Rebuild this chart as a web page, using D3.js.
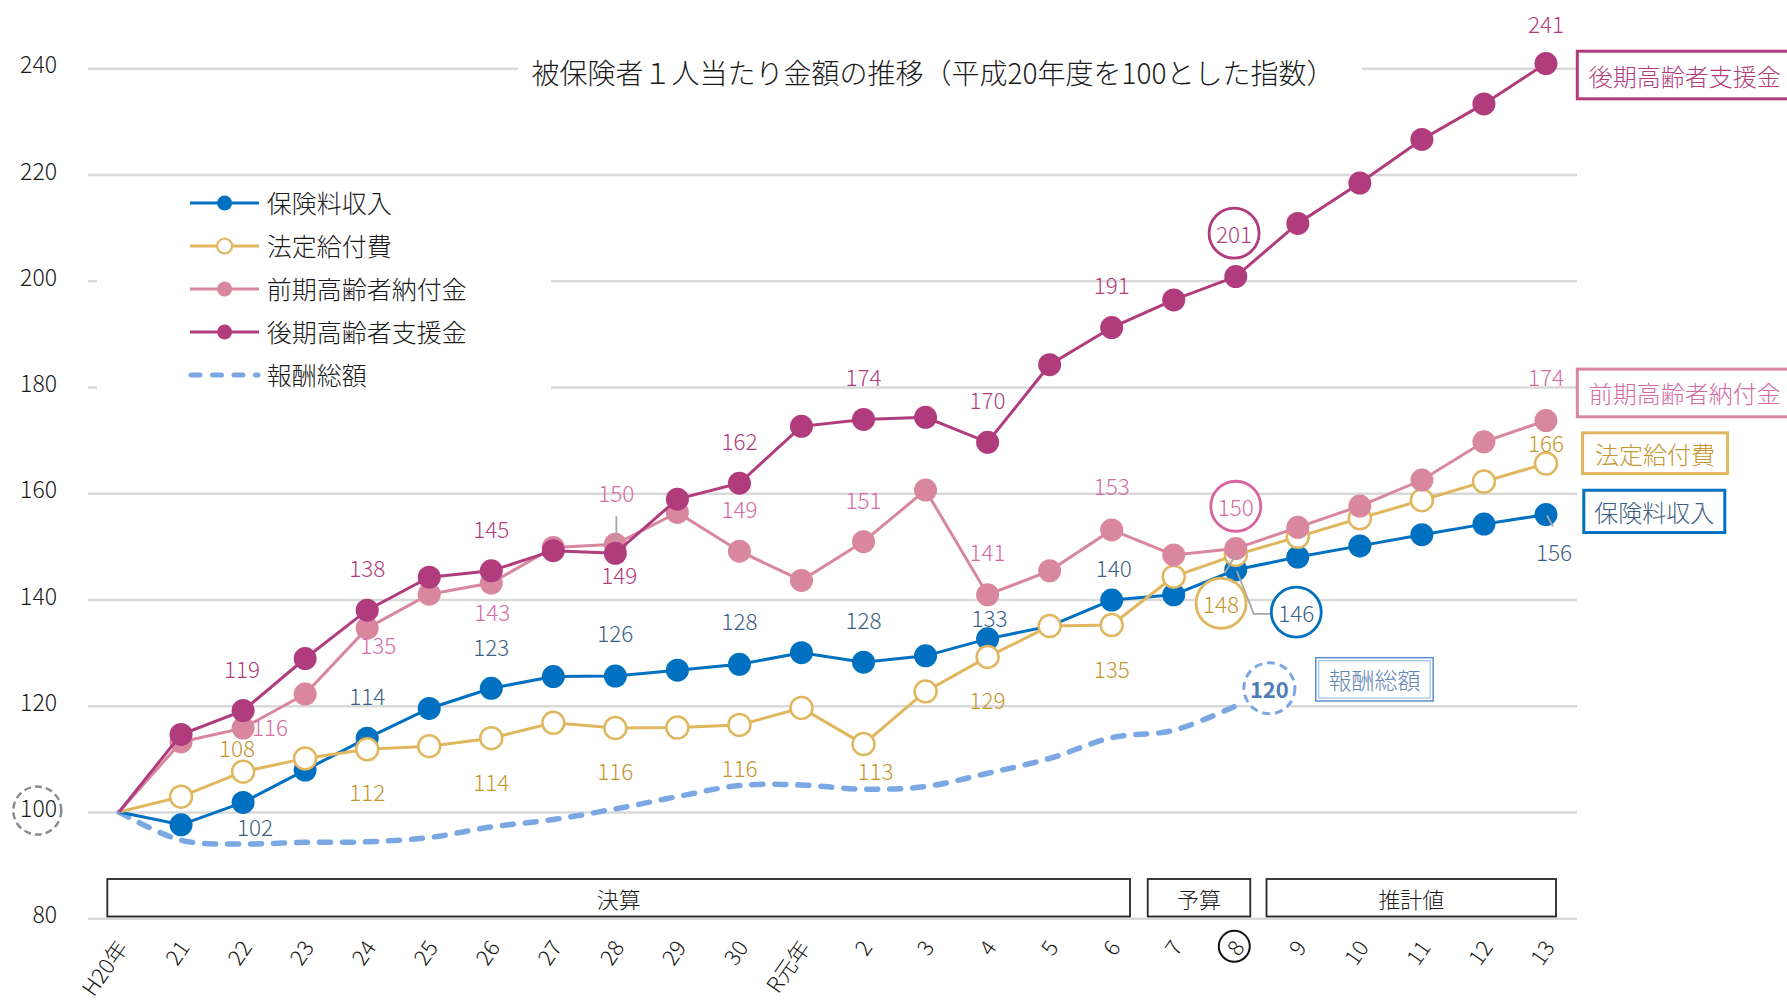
<!DOCTYPE html>
<html><head><meta charset="utf-8">
<script src="https://cdn.jsdelivr.net/npm/d3@7"></script>
<style>
html,body{margin:0;padding:0;background:#fff;}
svg{display:block;font-family:"Noto Sans CJK JP","Noto Sans",sans-serif;font-weight:300;}
</style></head><body>
<svg id="chart" width="1787" height="1004"></svg>
<script>
// ---------------- DATA ----------------
const categories = ["H20年","21","22","23","24","25","26","27","28","29","30","R元年","2","3","4","5","6","7","8","9","10","11","12","13"];
const premiumIncome      = [100,97.6,101.8,107.9,113.9,119.5,123.3,125.5,125.6,126.7,127.8,130.0,128.2,129.4,132.6,135.0,139.9,140.9,145.6,148.0,150.1,152.2,154.2,156.0];
const statutoryBenefits  = [100,102.9,107.6,110.1,111.8,112.4,113.9,116.8,115.8,115.9,116.4,119.6,112.8,122.7,129.2,135.0,135.2,144.3,148.4,151.8,155.3,158.7,162.2,165.6];
const earlyElderlyLevy   = [100,113.2,115.8,122.2,134.6,141.0,143.1,149.8,150.4,156.4,149.1,143.6,150.9,160.6,140.9,145.4,153.1,148.4,149.6,153.6,157.6,162.5,169.7,173.7];
const lateElderlySupport = [100,114.6,119.1,128.9,138.0,144.2,145.4,149.2,148.7,158.9,161.9,172.6,173.9,174.3,169.6,184.2,191.2,196.4,200.8,210.8,218.4,226.6,233.3,240.9];
const totalRemuneration  = [100,94.7,94.0,94.3,94.4,95.2,97.2,98.6,100.6,102.9,105.0,105.1,104.3,104.8,107.3,110.1,114.0,115.4,120.0];
const seriesNames = ["保険料収入","法定給付費","前期高齢者納付金","後期高齢者支援金","報酬総額"];
const yTickValues = [80,100,120,140,160,180,200,220,240];
const baseIndex = 100;
const phaseLabels = ["決算","予算","推計値"];
const phaseFirst  = ["H20年","7","9"];
const phaseLast   = ["6","8","13"];
const highlightedCategory = "8";
const chartTitle = "被保険者１人当たり金額の推移（平成20年度を100とした指数）";

// ---------------- LAYOUT / STYLE ----------------
const svg = d3.select("#chart");
const plotLeft = 88, plotRight = 1577;
const x = d3.scalePoint().domain(categories).range([plotLeft, plotRight]).padding(0.5);
const y = d3.scaleLinear().domain([80, 240]).range([918.3, 68.3]);
const FONT_LABEL = 22.5;

svg.append("rect").attr("width",1787).attr("height",1004).attr("fill","#fff");

// gridlines + y tick labels
const yAxis = svg.append("g").attr("transform",`translate(${plotLeft},0)`)
  .call(d3.axisLeft(y).tickValues(yTickValues).tickSize(-(plotRight-plotLeft)).tickPadding(31).tickFormat(d3.format("d")));
yAxis.select(".domain").remove();
yAxis.selectAll(".tick line").attr("stroke","#d9d9d9").attr("stroke-width",2.5);
yAxis.selectAll(".tick text").attr("fill","#1a1a1a").attr("dy","0.2em").style("font-size","23px")
  .style("font-family","'Noto Sans CJK JP',sans-serif").style("font-weight","300");
// dashed circle around the base index (100) tick label
yAxis.selectAll(".tick").filter(d => d === baseIndex)
  .append("circle").attr("cx",-50.7).attr("cy",-2).attr("r",24).attr("fill","none")
  .attr("stroke","#8c8c8c").attr("stroke-width",2.5).attr("stroke-dasharray","7 4");

// masks for title and legend (they sit over gridlines)
svg.append("rect").attr("x",518).attr("y",40).attr("width",844).attr("height",62).attr("fill","#fff");
svg.append("rect").attr("x",97).attr("y",185).attr("width",454).attr("height",215).attr("fill","#fff");

// title
svg.append("text").attr("x",933).attr("y",72).attr("text-anchor","middle").attr("dominant-baseline","central")
  .attr("fill","#1a1a1a").style("font-size","28px").text(chartTitle);

// x axis labels
const xAxis = svg.append("g").attr("transform",`translate(0,${y(80)})`)
  .call(d3.axisBottom(x).tickSize(0));
xAxis.select(".domain").remove();
xAxis.selectAll(".tick text")
  .attr("x",0).attr("y",0).attr("dy","0.35em")
  .attr("transform","translate(3,25) rotate(-55)")
  .style("text-anchor","end").style("font-size","22px").style("font-family","'Noto Sans CJK JP',sans-serif")
  .style("font-weight","300").attr("fill","#1a1a1a");
xAxis.selectAll(".tick").filter(d => d === highlightedCategory)
  .append("circle").attr("cx",-2).attr("cy",28).attr("r",15.5)
  .attr("fill","none").attr("stroke","#111").attr("stroke-width",2);

// phase boxes
const phasePads = [[-11.7,18.3],[-26,14.5],[-31.3,10]];
phaseLabels.forEach((lab,k) => {
  const x0 = x(phaseFirst[k]) + phasePads[k][0];
  const x1 = x(phaseLast[k]) + phasePads[k][1];
  const g = svg.append("g");
  g.append("rect").attr("x",x0).attr("y",879).attr("width",x1-x0).attr("height",37.5)
    .attr("fill","#fff").attr("stroke","#262626").attr("stroke-width",1.8);
  g.append("text").attr("x",(x0+x1)/2).attr("y",897.5).attr("text-anchor","middle").attr("dominant-baseline","central")
    .attr("fill","#1a1a1a").style("font-size","22px").text(lab);
});

// ---------------- SERIES ----------------
const series = [
  {name:seriesNames[0], values:premiumIncome,      color:"#0070C0", text:"#3E5F84", hollow:false,
   labels:{2:[12,24],4:[0,-43],6:[0,-42],8:[0,-44],10:[0,-44],12:[0,-43],14:[2,-22],16:[2,-33],23:[8,36]},
   circled:{i:18, dx:60.5, dy:42.3}},
  {name:seriesNames[1], values:statutoryBenefits,  color:"#E0B75E", text:"#C3962F", hollow:true,
   labels:{2:[-6,-25],4:[0,42],6:[0,42.4],8:[0,42],10:[0,42],12:[12,26],14:[0,42],16:[0,42.7],23:[0,-22]},
   circled:{i:18, dx:-14.7, dy:48.3}},
  {name:seriesNames[2], values:earlyElderlyLevy,   color:"#D9879F", text:"#D56BA3", hollow:false,
   labels:{2:[27,-2],4:[11,16],6:[1,28],8:[1,-52.5],10:[0,-43],12:[0,-42.5],14:[0,-43.4],16:[0,-44.5],23:[0,-44.7]},
   circled:{i:18, dx:0, dy:-42.3}, circleStroke:"#D865A0"},
  {name:seriesNames[3], values:lateElderlySupport, color:"#B13C7D", text:"#B13C7D", hollow:false,
   labels:{2:[-1,-43],4:[0,-43.6],6:[0,-43],8:[4,20.5],10:[0,-43],12:[0,-43.5],14:[0,-43],16:[0,-44],23:[0,-41]},
   circled:{i:18, dx:-1.7, dy:-43.4}}
];

const lineGen = d3.line().x((d,i)=>x(categories[i])).y(d=>y(d));

// remuneration (dashed, smoothed)
svg.append("path").datum(totalRemuneration)
  .attr("d", d3.line().x((d,i)=>x(categories[i])).y(d=>y(d)).curve(d3.curveCatmullRom.alpha(0.5)))
  .attr("fill","none").attr("stroke","#7BA8E2").attr("stroke-width",5.5)
  .attr("stroke-dasharray","11 12").attr("stroke-linecap","round");

series.forEach(s => {
  const g = svg.append("g");
  g.append("path").datum(s.values).attr("d",lineGen)
    .attr("fill","none").attr("stroke",s.color).attr("stroke-width",3);
  g.selectAll("circle").data(s.values.map((v,i)=>({v,i})).filter(d=>d.i>0)).join("circle")
    .attr("cx",d=>x(categories[d.i])).attr("cy",d=>y(d.v))
    .attr("r", s.hollow ? 11 : 11.5)
    .attr("fill", s.hollow ? "#fff" : s.color)
    .attr("stroke", s.hollow ? s.color : "none").attr("stroke-width",2.5);
});

// leader lines (gray)
const leader = (pts) => svg.append("path").attr("d", d3.line()(pts))
  .attr("fill","none").attr("stroke","#a6a6a6").attr("stroke-width",1.8);
{
  const i28 = categories.indexOf("28");
  const px = x(categories[i28]), py = y(earlyElderlyLevy[i28]);
  leader([[px+1,py-28],[px+1,py-2]]);
  const i8 = categories.indexOf("8");
  const bx = x(categories[i8]), by = y(premiumIncome[i8]);
  leader([[bx+1,by+1],[bx+18,by+44],[bx+35,by+44]]);
  const gy = y(statutoryBenefits[i8]);
  leader([[bx,gy],[bx-11,gy+18]]);
  const i13 = categories.length-1;
  const ex = x(categories[i13]), ey = y(premiumIncome[i13]);
  leader([[ex+1,ey+1],[ex+7,ey+12]]);
}

// data labels
series.forEach(s => {
  Object.entries(s.labels).forEach(([k,[dx,dy]]) => {
    const i = +k;
    svg.append("text").attr("x",x(categories[i])+dx).attr("y",y(s.values[i])+dy)
      .attr("text-anchor","middle").attr("dominant-baseline","central")
      .attr("fill",s.text).style("font-size",FONT_LABEL+"px").text(Math.round(s.values[i]));
  });
  const c = s.circled;
  const cx = x(categories[c.i])+c.dx, cy = y(s.values[c.i])+c.dy;
  svg.append("circle").attr("cx",cx).attr("cy",cy).attr("r",25)
    .attr("fill","#fff").attr("stroke",s.circleStroke || s.color).attr("stroke-width",2.8);
  svg.append("text").attr("x",cx).attr("y",cy).attr("text-anchor","middle").attr("dominant-baseline","central")
    .attr("fill",s.text).style("font-size",FONT_LABEL+"px").text(Math.round(s.values[c.i]));
});

// remuneration circled label
{
  const i = totalRemuneration.length-1;
  const cx = x(categories[i])+33.6, cy = y(totalRemuneration[i])-17.5;
  svg.append("circle").attr("cx",cx).attr("cy",cy).attr("r",25.5).attr("fill","#fff")
    .attr("stroke","#7BA8E2").attr("stroke-width",3).attr("stroke-dasharray","8 5");
  svg.append("text").attr("x",cx).attr("y",cy).attr("text-anchor","middle").attr("dominant-baseline","central")
    .attr("fill","#4E7DB3").style("font-size","22px").style("font-weight","bold").text(Math.round(totalRemuneration[i]));
}

// ---------------- RIGHT-SIDE NAME BOXES ----------------
const last = categories.length-1;
const nameBoxes = [
  {s:3, x:1577.3, w:260, dy:-12.3, h:47.6, anchor:"start", tx:1588.7, stroke:"#B13C7D", fill:"#B13C7D"},
  {s:2, x:1577.3, w:260, dy:-51.4, h:47.7, anchor:"start", tx:1588.7, stroke:"#D9879F", fill:"#D56BA3"},
  {s:1, x:1582.6, w:145, dy:-30.7, h:40.7, anchor:"middle", stroke:"#E0B75E", fill:"#C3962F"},
  {s:0, x:1583.8, w:141, dy:-24.3, h:42.3, anchor:"middle", stroke:"#0070C0", fill:"#3E5F84"}
];
nameBoxes.forEach(b => {
  const sr = series[b.s];
  const top = y(sr.values[last]) + b.dy;
  svg.append("rect").attr("x",b.x).attr("y",top).attr("width",b.w).attr("height",b.h)
    .attr("fill","#fff").attr("stroke",b.stroke).attr("stroke-width",3);
  svg.append("text").attr("x", b.anchor==="start" ? b.tx : b.x+b.w/2).attr("y",top+b.h/2)
    .attr("text-anchor",b.anchor).attr("dominant-baseline","central")
    .attr("fill",b.fill).style("font-size","24px").text(sr.name);
});
{
  const i = totalRemuneration.length-1;
  const bx = x(categories[i])+80, by = y(totalRemuneration[i])-48.1;
  svg.append("rect").attr("x",bx).attr("y",by).attr("width",117.4).attr("height",43.3)
    .attr("fill","#fff").attr("stroke","#5B8FD0").attr("stroke-width",1.5);
  svg.append("rect").attr("x",bx+3).attr("y",by+3).attr("width",111.4).attr("height",37.3)
    .attr("fill","none").attr("stroke","#9DC3E6").attr("stroke-width",1.2);
  svg.append("text").attr("x",bx+58.7).attr("y",by+21.7).attr("text-anchor","middle").attr("dominant-baseline","central")
    .attr("fill","#5F86B5").style("font-size","23px").text(seriesNames[4]);
}

// ---------------- LEGEND ----------------
const legend = svg.append("g");
const legendColors = ["#0070C0","#E0B75E","#D9879F","#B13C7D","#7BA8E2"];
seriesNames.forEach((nm,k) => {
  const ly = 203 + k*43;
  if (k < 4) {
    legend.append("line").attr("x1",190).attr("x2",259).attr("y1",ly).attr("y2",ly)
      .attr("stroke",legendColors[k]).attr("stroke-width",3);
    legend.append("circle").attr("cx",224.6).attr("cy",ly).attr("r",7.5)
      .attr("fill", k===1 ? "#fff" : legendColors[k])
      .attr("stroke", k===1 ? legendColors[k] : "none").attr("stroke-width",2.2);
  } else {
    legend.append("line").attr("x1",191).attr("x2",258).attr("y1",ly).attr("y2",ly)
      .attr("stroke",legendColors[k]).attr("stroke-width",5)
      .attr("stroke-dasharray","9 12.5").attr("stroke-linecap","round");
  }
  legend.append("text").attr("x",266.7).attr("y",ly-1).attr("dominant-baseline","central")
    .attr("fill","#1a1a1a").style("font-size","25px").text(nm);
});
</script>
</body></html>
